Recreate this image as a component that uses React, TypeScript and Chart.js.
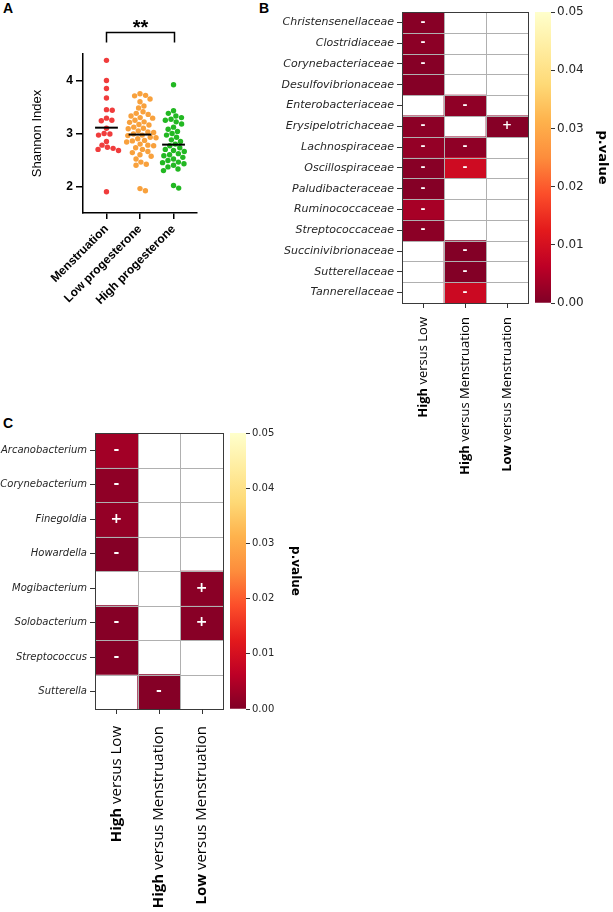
import React, { useEffect, useRef } from 'react';
import { Chart, registerables } from 'chart.js';

Chart.register(...registerables);

// ---------------- Panel A data ----------------
const groupLabels = ['Menstruation', 'Low progesterone', 'High progesterone'];
const groupColors = ['#f03c3c', '#f8a13d', '#22b822'];
const menstruationShannon = [4.38, 4.0, 3.85, 3.67, 3.45, 3.44, 3.29, 3.25, 3.24, 3.1, 3.0, 2.99, 2.97, 2.85, 2.78, 2.74, 2.72, 2.7, 2.68, 1.9];
const lowProgesteroneShannon = [3.75, 3.72, 3.71, 3.65, 3.6, 3.52, 3.48, 3.41, 3.38, 3.36, 3.33, 3.3, 3.29, 3.25, 3.22, 3.21, 3.17, 3.16, 3.12, 3.1, 3.09, 3.05, 3.03, 3.02, 2.99, 2.97, 2.96, 2.93, 2.92, 2.9, 2.87, 2.86, 2.84, 2.8, 2.78, 2.77, 2.73, 2.7, 2.66, 2.64, 2.6, 2.57, 2.52, 2.46, 2.42, 2.4, 1.96, 1.92];
const highProgesteroneShannon = [3.92, 3.43, 3.38, 3.33, 3.3, 3.27, 3.25, 3.22, 3.18, 3.12, 3.08, 3.04, 3.0, 2.97, 2.93, 2.88, 2.85, 2.8, 2.77, 2.73, 2.7, 2.68, 2.66, 2.62, 2.6, 2.58, 2.55, 2.52, 2.49, 2.46, 2.45, 2.43, 2.4, 2.37, 2.33, 2.3, 2.02, 1.97];
const groupCentreLines = [3.11, 2.98, 2.79];
const shannonTicks = [2, 3, 4];
const shannonMin = 1.5;
const shannonMax = 4.5;
const significance = { from: 1, to: 3, level: 4.92, label: '**' };

// ---------------- Panel B data ----------------
const comparisonBold = ['High', 'High', 'Low'];
const comparisonRest = [' versus Low', ' versus Menstruation', ' versus Menstruation'];
const familyNames = ['Christensenellaceae', 'Clostridiaceae', 'Corynebacteriaceae', 'Desulfovibrionaceae', 'Enterobacteriaceae', 'Erysipelotrichaceae', 'Lachnospiraceae', 'Oscillospiraceae', 'Paludibacteraceae', 'Ruminococcaceae', 'Streptococcaceae', 'Succinivibrionaceae', 'Sutterellaceae', 'Tannerellaceae'];
const familyPValues: (number | null)[][] = [
  [0.0008, null, null],
  [0.0012, null, null],
  [0.0006, null, null],
  [0.0005, null, null],
  [null, 0.0015, null],
  [0.0012, null, 0.0006],
  [0.002, 0.0015, null],
  [0.0008, 0.009, null],
  [0.0005, null, null],
  [0.004, null, null],
  [0.0012, null, null],
  [null, 0.0003, null],
  [null, 0.0003, null],
  [null, 0.0085, null],
];
const familySigns = [
  ['-', '', ''], ['-', '', ''], ['-', '', ''], ['', '', ''], ['', '-', ''], ['-', '', '+'], ['-', '-', ''],
  ['-', '-', ''], ['-', '', ''], ['-', '', ''], ['-', '', ''], ['', '-', ''], ['', '-', ''], ['', '-', ''],
];

// ---------------- Panel C data ----------------
const genusNames = ['Arcanobacterium', 'Corynebacterium', 'Finegoldia', 'Howardella', 'Mogibacterium', 'Solobacterium', 'Streptococcus', 'Sutterella'];
const genusPValues: (number | null)[][] = [
  [0.0035, null, null],
  [0.0015, null, null],
  [0.002, null, null],
  [0.0005, null, null],
  [null, null, 0.001],
  [0.0006, null, 0.0008],
  [0.0006, null, null],
  [null, 0.0005, null],
];
const genusSigns = [
  ['-', '', ''], ['-', '', ''], ['+', '', ''], ['-', '', ''], ['', '', '+'], ['-', '', '+'], ['-', '', ''], ['', '-', ''],
];

// ---------------- colour bar ----------------
const pValueTicks = [0, 0.01, 0.02, 0.03, 0.04, 0.05];
const pValueMax = 0.05;
const ylOrRdReversed = ['#800026', '#bd0026', '#e31a1c', '#fc4e2a', '#fd8d3c', '#feb24c', '#fed976', '#ffeda0', '#ffffcc'];

// ---------------- layout constants ----------------
const A_W = 205, A_H = 310;
const A_AREA = { left: 83, right: 197, top: 54, bottom: 213 };
const A_XMIN = 0.3, A_XMAX = 3.7;

function hexToRgb(h: string) {
  const n = parseInt(h.slice(1), 16);
  return [(n >> 16) & 255, (n >> 8) & 255, n & 255];
}
function pColor(p: number) {
  const t = Math.max(0, Math.min(1, p / pValueMax)) * (ylOrRdReversed.length - 1);
  const i = Math.min(Math.floor(t), ylOrRdReversed.length - 2);
  const f = t - i;
  const a = hexToRgb(ylOrRdReversed[i]);
  const b = hexToRgb(ylOrRdReversed[i + 1]);
  return `rgb(${a.map((v, k) => Math.round(v + (b[k] - v) * f)).join(',')})`;
}

function swarmOffsets(values: number[], pxPerX: number, pxPerY: number, d: number): number[] {
  const idx = values.map((_, i) => i).sort((a, b) => values[b] - values[a]);
  const placed: { x: number; y: number }[] = [];
  const out = new Array(values.length).fill(0);
  let flip = 1;
  for (const i of idx) {
    const y = values[i] * pxPerY;
    const near = placed.filter((p) => Math.abs(p.y - y) < d);
    const cands = [0];
    near.forEach((p) => {
      const dx = Math.sqrt(d * d - (p.y - y) * (p.y - y));
      cands.push(p.x + dx, p.x - dx);
    });
    cands.sort((a, b) => Math.abs(a) - Math.abs(b) || (a - b) * flip);
    let chosen = 0;
    for (const c of cands) {
      if (near.every((p) => (p.x - c) ** 2 + (p.y - y) ** 2 >= d * d - 0.01)) { chosen = c; break; }
    }
    flip = -flip;
    placed.push({ x: chosen, y });
    out[i] = chosen / pxPerX;
  }
  return out;
}

function panelAConfig(): any {
  const pxPerX = (A_AREA.right - A_AREA.left) / (A_XMAX - A_XMIN);
  const pxPerY = (A_AREA.bottom - A_AREA.top) / (shannonMax - shannonMin);
  const groups = [menstruationShannon, lowProgesteroneShannon, highProgesteroneShannon];
  const scatter = groups.map((vals, g) => {
    const offs = swarmOffsets(vals, pxPerX, pxPerY, 5.8);
    return {
      type: 'scatter',
      order: 2,
      data: vals.map((v, i) => ({ x: g + 1 + offs[i], y: v })),
      backgroundColor: groupColors[g],
      borderWidth: 0,
      pointRadius: 2.7,
    };
  });
  const lines = groupCentreLines.map((m, g) => ({
    type: 'line',
    order: 1,
    data: [{ x: g + 1 - 0.34, y: m }, { x: g + 1 + 0.34, y: m }],
    borderColor: '#000',
    borderWidth: 2,
    pointRadius: 0,
  }));
  const sigPlugin = {
    id: 'sig',
    afterDraw(chart: any) {
      const { ctx } = chart;
      const xs = chart.scales.x, ys = chart.scales.y;
      const x1 = Math.round(xs.getPixelForValue(significance.from)) + 0.5;
      const x2 = Math.round(xs.getPixelForValue(significance.to)) + 0.5;
      const yT = Math.round(ys.getPixelForValue(significance.level)) + 0.5;
      ctx.save();
      ctx.strokeStyle = '#000';
      ctx.lineWidth = 1.5;
      ctx.beginPath();
      ctx.moveTo(x1, yT + 10);
      ctx.lineTo(x1, yT);
      ctx.lineTo(x2, yT);
      ctx.lineTo(x2, yT + 10);
      ctx.stroke();
      ctx.fillStyle = '#000';
      ctx.font = 'bold 20px "Liberation Sans"';
      ctx.textAlign = 'center';
      ctx.textBaseline = 'alphabetic';
      ctx.fillText(significance.label, (x1 + x2) / 2, yT + 1);
      ctx.restore();
    },
  };
  return {
    type: 'scatter',
    data: { datasets: [...lines, ...scatter] },
    options: {
      animation: false,
      responsive: false,
      devicePixelRatio: 1,
      events: [],
      layout: { padding: { top: A_AREA.top, right: A_W - A_AREA.right, left: 0, bottom: 0 } },
      plugins: { legend: { display: false }, tooltip: { enabled: false } },
      scales: {
        x: {
          type: 'linear',
          min: A_XMIN,
          max: A_XMAX,
          afterBuildTicks: (s: any) => { s.ticks = [1, 2, 3].map((v) => ({ value: v })); },
          afterFit: (s: any) => { s.height = A_H - A_AREA.bottom; },
          ticks: {
            autoSkip: false,
            minRotation: 45,
            maxRotation: 45,
            padding: 3,
            color: '#000',
            font: { family: 'Liberation Sans', weight: 'bold', size: 12 },
            callback: (_v: any, i: number) => groupLabels[i],
          },
          grid: { drawOnChartArea: false, drawTicks: true, tickLength: 6, color: '#000', lineWidth: 1.5 },
          border: { display: true, color: '#000', width: 1.5 },
        },
        y: {
          type: 'linear',
          min: shannonMin,
          max: shannonMax,
          afterBuildTicks: (s: any) => { s.ticks = shannonTicks.map((v) => ({ value: v })); },
          afterFit: (s: any) => { s.width = A_AREA.left; },
          ticks: { color: '#000', padding: 3, font: { family: 'Liberation Sans', weight: 'bold', size: 12 } },
          grid: { drawOnChartArea: false, drawTicks: true, tickLength: 7, color: '#000', lineWidth: 1.5 },
          border: { display: true, color: '#000', width: 1.5 },
          title: {
            display: true,
            text: 'Shannon Index',
            color: '#000',
            font: { family: 'Liberation Sans', size: 13 },
            padding: { top: 30, bottom: 0 },
          },
        },
      },
    },
    plugins: [sigPlugin],
  };
}

function heatmapConfig(rows: string[], pvals: (number | null)[][], signs: string[][], o: any): any {
  const nCols = comparisonBold.length;
  const datasets = comparisonBold.map((_, c) => ({
    data: rows.map((_r, r) => (pvals[r][c] == null ? null : [c - 0.5, c + 0.5])),
    backgroundColor: rows.map((_r, r) => (pvals[r][c] == null ? 'rgba(0,0,0,0)' : pColor(pvals[r][c] as number))),
    borderWidth: 0,
    barPercentage: 1,
    categoryPercentage: 1,
    grouped: false,
  }));
  const decor = {
    id: 'heatDecor',
    afterDatasetsDraw(chart: any) {
      const { ctx, chartArea: a } = chart;
      const xs = chart.scales.x;
      const nRows = rows.length;
      const rh = (a.bottom - a.top) / nRows;
      const cw = (a.right - a.left) / nCols;
      ctx.save();
      ctx.lineWidth = 1;
      ctx.strokeStyle = '#b0b0b0';
      ctx.beginPath();
      for (let r = 1; r < nRows; r++) {
        const y = Math.round(a.top + r * rh) + 0.5;
        ctx.moveTo(a.left, y);
        ctx.lineTo(a.right, y);
      }
      for (let c = 1; c < nCols; c++) {
        const x = Math.round(a.left + c * cw) + 0.5;
        ctx.moveTo(x, a.top);
        ctx.lineTo(x, a.bottom);
      }
      ctx.stroke();
      ctx.strokeStyle = '#3a3a3a';
      ctx.strokeRect(Math.round(a.left) + 0.5, Math.round(a.top) + 0.5, Math.round(a.right - a.left), Math.round(a.bottom - a.top));
      ctx.fillStyle = '#ffffff';
      ctx.font = `bold ${o.markSize}px "DejaVu Sans"`;
      ctx.textAlign = 'center';
      ctx.textBaseline = 'middle';
      signs.forEach((row, r) => row.forEach((s, c) => {
        if (s) ctx.fillText(s, xs.getPixelForValue(c), a.top + (r + 0.5) * rh);
      }));
      ctx.strokeStyle = '#333';
      ctx.beginPath();
      for (let c = 0; c < nCols; c++) {
        const x = Math.round(xs.getPixelForValue(c)) + 0.5;
        ctx.moveTo(x, a.bottom);
        ctx.lineTo(x, a.bottom + 5);
      }
      ctx.stroke();
      ctx.fillStyle = '#000';
      ctx.textAlign = 'left';
      ctx.textBaseline = 'middle';
      const boldFont = `bold ${o.colSize}px "Open Sans"`;
      const regFont = `${o.colSize}px "Open Sans"`;
      for (let c = 0; c < nCols; c++) {
        ctx.font = boldFont;
        const bw = ctx.measureText(comparisonBold[c]).width;
        ctx.font = regFont;
        const rw = ctx.measureText(comparisonRest[c]).width;
        const total = bw + rw;
        ctx.save();
        ctx.translate(xs.getPixelForValue(c), a.bottom + o.labelGap);
        ctx.rotate(-Math.PI / 2);
        ctx.font = boldFont;
        ctx.fillText(comparisonBold[c], -total, 0);
        ctx.font = regFont;
        ctx.fillText(comparisonRest[c], -total + bw, 0);
        ctx.restore();
      }
      ctx.restore();
    },
  };
  return {
    type: 'bar',
    data: { labels: rows, datasets },
    options: {
      indexAxis: 'y',
      animation: false,
      responsive: false,
      devicePixelRatio: 1,
      events: [],
      layout: { padding: { top: o.padTop, right: o.padRight, bottom: o.padBottom, left: 0 } },
      plugins: { legend: { display: false }, tooltip: { enabled: false } },
      scales: {
        x: { type: 'linear', display: false, min: -0.5, max: nCols - 0.5 },
        y: {
          type: 'category',
          offset: true,
          afterFit: (s: any) => { s.width = o.axisWidth; },
          grid: { offset: false, drawOnChartArea: false, drawTicks: true, tickLength: 5, color: '#333' },
          border: { display: false },
          ticks: { autoSkip: false, padding: 3, color: '#262626', font: { family: 'DejaVu Sans', style: 'italic', size: o.rowSize } },
        },
      },
    },
    plugins: [decor],
  };
}

function colorbarConfig(o: any): any {
  return {
    type: 'bar',
    data: {
      labels: [''],
      datasets: [{
        data: [[0, pValueMax]],
        borderWidth: 0,
        barPercentage: 1,
        categoryPercentage: 1,
        backgroundColor: (ctx: any) => {
          const chart = ctx.chart;
          if (!chart.chartArea) return ylOrRdReversed[0];
          const ys = chart.scales.y;
          const g = chart.ctx.createLinearGradient(0, ys.getPixelForValue(0), 0, ys.getPixelForValue(pValueMax));
          ylOrRdReversed.forEach((c, i) => g.addColorStop(i / (ylOrRdReversed.length - 1), c));
          return g;
        },
      }],
    },
    options: {
      animation: false,
      responsive: false,
      devicePixelRatio: 1,
      events: [],
      layout: { padding: { top: o.padTop, bottom: o.padBottom, left: 0, right: 0 } },
      plugins: { legend: { display: false }, tooltip: { enabled: false } },
      scales: {
        x: { display: false },
        y: {
          position: 'right',
          min: 0,
          max: pValueMax,
          afterBuildTicks: (s: any) => { s.ticks = pValueTicks.map((v) => ({ value: v })); },
          afterFit: (s: any) => { s.width = o.axisWidth; },
          ticks: { padding: 2, color: '#262626', font: { family: 'DejaVu Sans', size: o.tickSize }, callback: (v: any) => Number(v).toFixed(2) },
          grid: { drawOnChartArea: false, drawTicks: true, tickLength: 4, color: '#333' },
          border: { display: false },
          title: {
            display: true,
            text: 'p.value',
            color: '#000',
            font: { family: 'DejaVu Sans', weight: 'bold', size: o.titleSize },
            padding: { top: o.titlePad, bottom: 0 },
          },
        },
      },
    },
  };
}

const abs = (left: number, top: number): React.CSSProperties => ({ position: 'absolute', left, top });
const letterStyle = (left: number, top: number): React.CSSProperties => ({
  position: 'absolute', left, top, font: 'bold 14px "Liberation Sans"', lineHeight: '14px', color: '#000',
});

export default function App() {
  const aRef = useRef<HTMLCanvasElement>(null);
  const bRef = useRef<HTMLCanvasElement>(null);
  const bBarRef = useRef<HTMLCanvasElement>(null);
  const cRef = useRef<HTMLCanvasElement>(null);
  const cBarRef = useRef<HTMLCanvasElement>(null);

  useEffect(() => {
    const charts: Chart[] = [];
    charts.push(new Chart(aRef.current as HTMLCanvasElement, panelAConfig()));
    charts.push(new Chart(bRef.current as HTMLCanvasElement, heatmapConfig(familyNames, familyPValues, familySigns, {
      axisWidth: 192, padTop: 12, padRight: 7, padBottom: 197, rowSize: 11, colSize: 13, markSize: 12, labelGap: 14,
    })));
    charts.push(new Chart(bBarRef.current as HTMLCanvasElement, colorbarConfig({
      axisWidth: 62, padTop: 12, padBottom: 17, tickSize: 12, titleSize: 13, titlePad: 3,
    })));
    charts.push(new Chart(cRef.current as HTMLCanvasElement, heatmapConfig(genusNames, genusPValues, genusSigns, {
      axisWidth: 95, padTop: 43, padRight: 7, padBottom: 201, rowSize: 10, colSize: 15, markSize: 14, labelGap: 17,
    })));
    charts.push(new Chart(cBarRef.current as HTMLCanvasElement, colorbarConfig({
      axisWidth: 60, padTop: 43, padBottom: 11, tickSize: 10, titleSize: 12, titlePad: 4,
    })));
    return () => charts.forEach((c) => c.destroy());
  }, []);

  return (
    <div style={{ position: 'absolute', left: 0, top: 0, width: 613, height: 912, background: '#fff', overflow: 'hidden' }}>
      <div style={letterStyle(3, 1)}>A</div>
      <div style={letterStyle(259, 1)}>B</div>
      <div style={letterStyle(3, 416)}>C</div>
      <canvas ref={aRef} width={A_W} height={A_H} style={abs(0, 0)} />
      <canvas ref={bRef} width={325} height={500} style={abs(210, 0)} />
      <canvas ref={bBarRef} width={78} height={320} style={abs(535, 0)} />
      <canvas ref={cRef} width={230} height={520} style={abs(0, 390)} />
      <canvas ref={cBarRef} width={76} height={330} style={abs(230, 390)} />
    </div>
  );
}
